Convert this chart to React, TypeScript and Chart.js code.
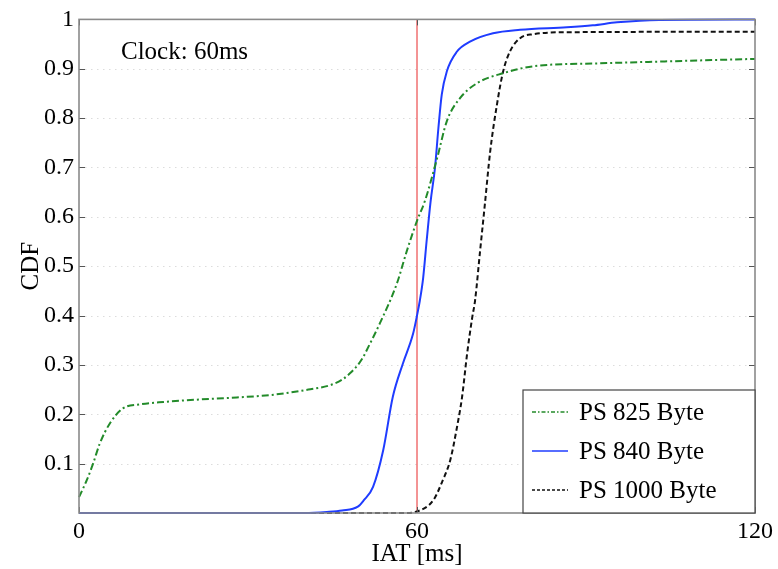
import React, { useEffect, useRef } from "react";
import { Chart, registerables } from "chart.js";

Chart.register(...registerables);

// ---- data ----
const X_TICKS = [0, 60, 120];
const Y_TICKS = [0.1, 0.2, 0.3, 0.4, 0.5, 0.6, 0.7, 0.8, 0.9, 1];
const CLOCK_MS = 60;
const CLOCK_LABEL = "Clock: 60ms";

const PS825_LABEL = "PS 825 Byte";
const PS825_X = [0, 1.4, 2.5, 3.7, 5.5, 7.8, 10.8, 15, 21.5, 28, 34.8, 40.7, 44.6, 46.7, 48.1, 49.5, 50.4, 51.3, 53.4, 56.4, 58.2, 60, 61.4, 63.6, 65.3, 67.6, 70.7, 75.3, 80.6, 92.5, 104.4, 120];
const PS825_Y = [0.032, 0.067, 0.1, 0.141, 0.182, 0.212, 0.22, 0.225, 0.23, 0.234, 0.24, 0.25, 0.259, 0.27, 0.283, 0.3, 0.315, 0.335, 0.384, 0.464, 0.531, 0.592, 0.632, 0.72, 0.794, 0.84, 0.871, 0.891, 0.905, 0.911, 0.915, 0.92];

const PS840_LABEL = "PS 840 Byte";
const PS840_X = [0, 40, 44, 46.7, 49.5, 50.5, 52.2, 54, 55.7, 57.5, 59.3, 60, 60.5, 61.1, 61.7, 62.4, 63.2, 63.8, 64.4, 65.3, 67.1, 69.4, 73.5, 78.3, 86.6, 91.2, 95.5, 103, 120];
const PS840_Y = [0, 0, 0.002, 0.005, 0.013, 0.025, 0.053, 0.127, 0.235, 0.303, 0.363, 0.4, 0.43, 0.477, 0.55, 0.63, 0.7, 0.78, 0.848, 0.895, 0.935, 0.955, 0.972, 0.979, 0.984, 0.988, 0.994, 0.999, 1];

const PS1000_LABEL = "PS 1000 Byte";
const PS1000_X = [0, 58, 60, 62.9, 64.6, 65.9, 67.1, 68, 68.9, 69.8, 70.3, 71.2, 72, 73, 74.2, 75.3, 76.5, 78.3, 80.6, 86.6, 120];
const PS1000_Y = [0, 0, 0.003, 0.026, 0.067, 0.107, 0.174, 0.235, 0.323, 0.396, 0.43, 0.531, 0.62, 0.733, 0.828, 0.895, 0.935, 0.962, 0.97, 0.974, 0.975];

const FONT = "'Liberation Serif', 'Times New Roman', serif";

const toPts = (xs: number[], ys: number[]) => xs.map((x, i) => ({ x, y: ys[i] }));

const decorPlugin = {
  id: "decor",
  beforeDatasetsDraw(chart: any) {
    const { ctx, chartArea: a, scales } = chart;
    const y = scales.y;
    ctx.save();
    ctx.strokeStyle = "#dcdcdc";
    ctx.lineWidth = 1;
    ctx.setLineDash([1.5, 4.5]);
    Y_TICKS.forEach((v) => {
      if (v >= 1) return;
      const py = Math.round(y.getPixelForValue(v)) + 0.5;
      ctx.beginPath();
      ctx.moveTo(a.left, py);
      ctx.lineTo(a.right, py);
      ctx.stroke();
    });
    ctx.restore();
  },
  afterDatasetsDraw(chart: any) {
    const { ctx, chartArea: a, scales } = chart;
    const x = scales.x;
    const y = scales.y;
    ctx.save();
    ctx.setLineDash([]);
    // ticks (inward, mirrored)
    ctx.strokeStyle = "#555";
    ctx.lineWidth = 1;
    const tl = 6;
    Y_TICKS.forEach((v) => {
      const py = Math.round(y.getPixelForValue(v)) + 0.5;
      ctx.beginPath();
      ctx.moveTo(a.left, py);
      ctx.lineTo(a.left + tl, py);
      ctx.moveTo(a.right, py);
      ctx.lineTo(a.right - tl, py);
      ctx.stroke();
    });
    X_TICKS.forEach((v) => {
      const px = Math.round(x.getPixelForValue(v)) + 0.5;
      ctx.beginPath();
      ctx.moveTo(px, a.bottom);
      ctx.lineTo(px, a.bottom - tl);
      ctx.moveTo(px, a.top);
      ctx.lineTo(px, a.top + tl);
      ctx.stroke();
    });
    // frame
    ctx.strokeStyle = "#8a8a8a";
    ctx.lineWidth = 1.6;
    ctx.strokeRect(a.left, a.top, a.right - a.left, a.bottom - a.top);

    // clock annotation
    ctx.fillStyle = "#000";
    ctx.font = `25px ${FONT}`;
    ctx.textBaseline = "alphabetic";
    ctx.textAlign = "left";
    ctx.fillText(CLOCK_LABEL, a.left + 42, a.top + 40);

    // legend
    const w = 232;
    const h = 123;
    const lx = a.right - w;
    const ly = a.bottom - h;
    ctx.fillStyle = "#fff";
    ctx.fillRect(lx, ly, w, h);
    ctx.strokeStyle = "#444";
    ctx.lineWidth = 1.2;
    ctx.strokeRect(lx, ly, w, h);
    const sets = chart.data.datasets.slice(0, 3);
    sets.forEach((ds: any, i: number) => {
      const cy = ly + 22 + i * 39;
      ctx.strokeStyle = ds.borderColor;
      ctx.lineWidth = 1.5;
      ctx.setLineDash(ds.legendDash || []);
      ctx.beginPath();
      ctx.moveTo(lx + 9, cy);
      ctx.lineTo(lx + 45, cy);
      ctx.stroke();
      ctx.setLineDash([]);
      ctx.fillStyle = "#000";
      ctx.font = `25px ${FONT}`;
      ctx.textBaseline = "middle";
      ctx.fillText(ds.label, lx + 56, cy + 1);
    });
    ctx.restore();
  },
};

export default function App() {
  const ref = useRef<HTMLCanvasElement>(null);
  useEffect(() => {
    if (!ref.current) return;
    const chart = new Chart(ref.current, {
      type: "line",
      data: {
        datasets: [
          {
            label: PS825_LABEL,
            data: toPts(PS825_X, PS825_Y),
            borderColor: "#238b2a",
            borderWidth: 2,
            borderDash: [7, 3, 2, 3],
            legendDash: [4, 2, 1.5, 2],
            cubicInterpolationMode: "monotone",
            pointRadius: 0,
            fill: false,
            clip: 4,
          } as any,
          {
            label: PS840_LABEL,
            data: toPts(PS840_X, PS840_Y),
            borderColor: "#1f3cff",
            borderWidth: 2,
            cubicInterpolationMode: "monotone",
            pointRadius: 0,
            fill: false,
            clip: 4,
          } as any,
          {
            label: PS1000_LABEL,
            data: toPts(PS1000_X, PS1000_Y),
            borderColor: "#111",
            borderWidth: 2,
            borderDash: [5, 3],
            legendDash: [3, 2],
            cubicInterpolationMode: "monotone",
            pointRadius: 0,
            fill: false,
            clip: 4,
          } as any,
          {
            label: "clock",
            data: [
              { x: CLOCK_MS, y: 0 },
              { x: CLOCK_MS, y: 1 },
            ],
            borderColor: "#e8282a",
            borderWidth: 1,
            pointRadius: 0,
            fill: false,
          } as any,
        ],
      },
      options: {
        animation: false,
        responsive: false,
        maintainAspectRatio: false,
        layout: { padding: { top: 18, right: 23, left: 0, bottom: 0 } },
        plugins: { legend: { display: false }, tooltip: { enabled: false } },
        scales: {
          x: {
            type: "linear",
            min: 0,
            max: 120,
            afterBuildTicks: (s: any) => {
              s.ticks = X_TICKS.map((v) => ({ value: v }));
            },
            ticks: { font: { family: FONT, size: 24 }, color: "#000", padding: 4, maxRotation: 0 },
            grid: { display: false, drawTicks: false },
            border: { display: false },
            title: { display: true, text: "IAT [ms]", font: { family: FONT, size: 25 }, color: "#000", padding: { top: 0, bottom: 0 } },
            afterFit: (s: any) => {
              s.height = 56;
            },
          },
          y: {
            type: "linear",
            min: 0,
            max: 1,
            afterBuildTicks: (s: any) => {
              s.ticks = Y_TICKS.map((v) => ({ value: v }));
            },
            ticks: {
              font: { family: FONT, size: 24 },
              color: "#000",
              padding: 5,
              callback: (v: any) => String(Math.round(Number(v) * 10) / 10),
            },
            grid: { display: false, drawTicks: false },
            border: { display: false },
            title: { display: true, text: "CDF", font: { family: FONT, size: 25 }, color: "#000", padding: { top: 16, bottom: 0 } },
            afterFit: (s: any) => {
              s.width = 79;
            },
          },
        },
      },
      plugins: [decorPlugin],
    } as any);
    return () => chart.destroy();
  }, []);
  return (
    <div style={{ position: "fixed", left: 0, top: 0, width: 778, height: 569, background: "#fff" }}>
      <canvas ref={ref} width={778} height={569} style={{ display: "block" }} />
    </div>
  );
}
